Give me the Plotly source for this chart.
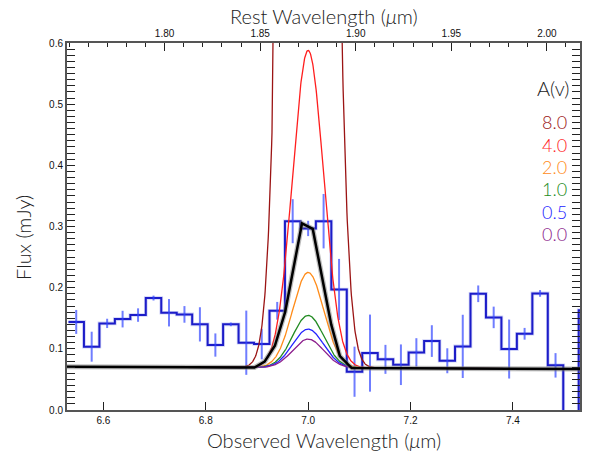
import numpy as np
import plotly.graph_objects as go

# ---------------- data ----------------
# observed-frame bin centres (micron) of the spectrum
bin_wave = [6.547, 6.5772, 6.6074, 6.6376, 6.6678, 6.698, 6.7282, 6.7584, 6.7886,
            6.8188, 6.849, 6.8792, 6.9094, 6.9396, 6.9698, 7.0, 7.0302, 7.0604,
            7.0906, 7.1208, 7.151, 7.1812, 7.2114, 7.2416, 7.2718, 7.302, 7.3322,
            7.3624, 7.3926, 7.4228, 7.453, 7.4832, 7.5134, 7.5436]
bin_flux = [0.144, 0.1035, 0.1416, 0.1486, 0.1552, 0.183, 0.159, 0.1563, 0.140,
            0.1062, 0.140, 0.110, 0.1078, 0.1622, 0.3087, 0.2968, 0.3087, 0.197,
            0.0626, 0.093, 0.0828, 0.074, 0.0942, 0.1127, 0.0805, 0.104, 0.190,
            0.1514, 0.0996, 0.1246, 0.1906, 0.073, -0.03, 0.163]
bin_err = [0.0196, 0.0245, 0.0076, 0.0136, 0.011, 0.004, 0.0224, 0.0136, 0.028,
           0.019, 0.003, 0.0525, 0.025, 0.0145, 0.036, 0.0125, 0.0445, 0.05,
           0.041, 0.063, 0.0237, 0.0332, 0.0232, 0.0259, 0.0204, 0.0517, 0.0136,
           0.0176, 0.0482, 0.0096, 0.0055, 0.020, 0.0, 0.0]

# best-fit model (black polyline)
model_wave = [6.529, 6.895, 6.915, 6.935, 6.955, 6.988, 7.009, 7.045, 7.062, 7.085, 7.531]
model_flux = [0.0707, 0.0693, 0.079, 0.105, 0.16, 0.305, 0.296, 0.14, 0.088, 0.0686, 0.067]

# extinction-corrected Gaussian line models
av_labels = ["8.0", "4.0", "2.0", "1.0", "0.5", "0.0"]
av_colors = ["#9b1414", "#ff1e1e", "#ff8c1a", "#228b22", "#2323ff", "#8c1e8c"]
av_peak = [5.8, 0.519, 0.156, 0.0857, 0.0633, 0.047]   # line peak above continuum (mJy)
line_center = 7.0
line_sigma = 0.0303
cont_left, cont_right = 0.0707, 0.067

one_plus_z = 7.0 / 1.8751
x_range = [6.529, 7.531]
bottom_ticks = [6.6, 6.8, 7.0, 7.2, 7.4]
top_ticks = [1.80, 1.85, 1.90, 1.95, 2.00]
y_ticks = [0.0, 0.1, 0.2, 0.3, 0.4, 0.5, 0.6]

# ---------------- figure ----------------
fig = go.Figure()

half = (bin_wave[1] - bin_wave[0]) / 2
edges = [w - half for w in bin_wave] + [bin_wave[-1] + half]
step_y = bin_flux + [bin_flux[-1]]

fig.add_trace(go.Scatter(x=edges, y=step_y, mode="lines", line_shape="hv",
                         line=dict(color="rgba(170,175,240,0.55)", width=3.6),
                         hoverinfo="skip", showlegend=False))
fig.add_trace(go.Scatter(x=edges, y=step_y, mode="lines", line_shape="hv",
                         line=dict(color="#1c1cc8", width=2),
                         hoverinfo="skip", showlegend=False))
fig.add_trace(go.Scatter(x=bin_wave, y=bin_flux, mode="markers",
                         marker=dict(size=1, opacity=0),
                         error_y=dict(type="data", array=bin_err, visible=True,
                                      color="rgba(50,70,255,0.7)", thickness=2, width=0),
                         hoverinfo="skip", showlegend=False))

xx = np.linspace(x_range[0], x_range[1], 1500)
cont = cont_left + (cont_right - cont_left) * (xx - x_range[0]) / (x_range[1] - x_range[0])
for lab, col, amp in zip(av_labels, av_colors, av_peak):
    yy = cont + amp * np.exp(-0.5 * ((xx - line_center) / line_sigma) ** 2)
    fig.add_trace(go.Scatter(x=xx, y=yy, mode="lines", line=dict(color=col, width=1.3),
                             hoverinfo="skip", showlegend=False, name=lab))

fig.add_trace(go.Scatter(x=model_wave, y=model_flux, mode="lines",
                         line=dict(color="rgba(120,120,120,0.5)", width=5),
                         hoverinfo="skip", showlegend=False))
fig.add_trace(go.Scatter(x=model_wave, y=model_flux, mode="lines",
                         line=dict(color="#000000", width=2.5),
                         hoverinfo="skip", showlegend=False))

# invisible trace to attach the rest-frame axis
fig.add_trace(go.Scatter(x=[1.9], y=[0.3], xaxis="x2", mode="markers",
                         marker=dict(opacity=0, size=1), hoverinfo="skip", showlegend=False))

tickfont = dict(family="Liberation Sans", size=10, color="#111111")
titlefont = dict(family="Lato", size=20, color="#222222", weight=300)

fig.update_layout(
    width=593, height=451,
    margin=dict(l=67, r=11, t=43, b=41),
    paper_bgcolor="white", plot_bgcolor="white",
    xaxis=dict(range=x_range, tickmode="array", tickvals=bottom_ticks,
               ticktext=[f"{v:.1f}" for v in bottom_ticks], ticks="inside", ticklen=8,
               tickcolor="#222", tickwidth=1.2, showline=True, linecolor="#555",
               linewidth=2, showgrid=False, zeroline=False, mirror=False,
               tickfont=tickfont),
    xaxis2=dict(range=[x_range[0] / one_plus_z, x_range[1] / one_plus_z],
                overlaying="x", side="top", anchor="y", tickmode="array",
                tickvals=top_ticks, ticktext=[f"{v:.2f}" for v in top_ticks],
                ticks="inside", ticklen=8, tickcolor="#222", tickwidth=1.2,
                minor=dict(dtick=0.01, tick0=1.80, ticks="inside", ticklen=4,
                           tickcolor="#222", tickwidth=1.2),
                showline=True, linecolor="#555", linewidth=2, showgrid=False,
                zeroline=False, tickfont=tickfont),
    yaxis=dict(range=[0, 0.6], tickmode="array", tickvals=y_ticks,
               ticktext=[f"{v:.1f}" for v in y_ticks], ticks="inside", ticklen=8,
               tickcolor="#222", tickwidth=1.2,
               minor=dict(dtick=0.01, tick0=0, ticks="inside", ticklen=4,
                          tickcolor="#222", tickwidth=1.2),
               showline=True, linecolor="#555", linewidth=2, mirror="allticks",
               showgrid=False, zeroline=False, tickfont=tickfont),
)

fig.add_annotation(text="Observed Wavelength (<i>μ</i>m)", xref="paper", yref="paper",
                   x=0.5, y=-0.081, xanchor="center", yanchor="middle",
                   showarrow=False, font=titlefont)
fig.add_annotation(text="Rest Wavelength (<i>μ</i>m)", xref="paper", yref="paper",
                   x=0.5, y=1.074, xanchor="center", yanchor="middle",
                   showarrow=False, font=titlefont)
fig.add_annotation(text="Flux (mJy)", xref="paper", yref="paper",
                   x=-0.087, y=0.47, xanchor="center", yanchor="middle", textangle=-90,
                   showarrow=False, font=titlefont)

fig.add_annotation(text="A(v)", xref="paper", yref="paper", x=0.948, y=(410 - 88) / 367.3,
                   xanchor="center", yanchor="middle", showarrow=False,
                   font=dict(family="Lato", size=20, color="#222222", weight=300))
for i, (lab, col) in enumerate(zip(av_labels, av_colors)):
    py = 122 + i * 22.4
    fig.add_annotation(text=lab, xref="paper", yref="paper", x=0.951,
                       y=(410 - py) / 367.3, xanchor="center", yanchor="middle",
                       showarrow=False, font=dict(family="Lato", size=18, color=col, weight=300))

fig.write_html("out.html")
